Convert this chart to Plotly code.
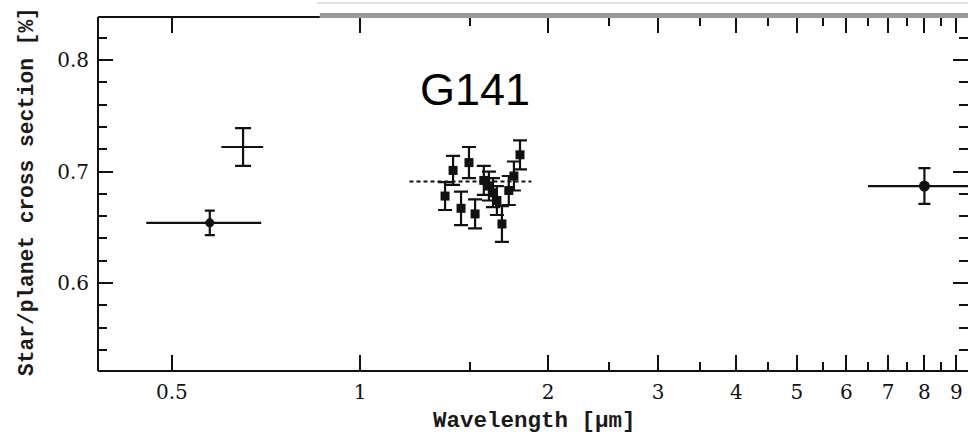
import plotly.graph_objects as go

# WFC3 G141 spectroscopic bins
g141_wavelength = [1.368, 1.409, 1.451, 1.494, 1.528, 1.578, 1.608, 1.632, 1.656, 1.687, 1.730, 1.763, 1.803]
g141_depth = [0.678, 0.701, 0.667, 0.708, 0.662, 0.692, 0.687, 0.681, 0.674, 0.653, 0.683, 0.696, 0.715]
g141_err = [0.0125, 0.013, 0.015, 0.014, 0.013, 0.013, 0.013, 0.013, 0.013, 0.016, 0.013, 0.013, 0.013]

# Broadband optical points
opt_a_wavelength = [0.575]
opt_a_halfwidth = [0.12]
opt_a_depth = [0.654]
opt_a_err = [0.011]

opt_b_wavelength = [0.65]
opt_b_halfwidth = [0.05]
opt_b_depth = [0.722]
opt_b_err = [0.017]

# IRAC 8 micron point
irac_wavelength = [8.0]
irac_halfwidth = [1.5]
irac_depth = [0.687]
irac_err = [0.016]

# White-light level across the G141 band
flat_wavelength = [1.20, 1.88]
flat_depth = [0.691, 0.691]

x_major = [0.5, 1, 2, 3, 4, 5, 6, 7, 8, 9]
x_major_text = ["0.5", "1", "2", "3", "4", "5", "6", "7", "8", "9"]
x_minor = [1.5, 2.5, 3.5, 4.5, 5.5, 6.5, 7.5, 8.5]
y_major = [0.6, 0.7, 0.8]
y_major_text = ["0.6", "0.7", "0.8"]

BLACK = "#111111"
tick_font = dict(family="DejaVu Serif", size=20, color="#111111")
title_font = dict(family="Liberation Mono", size=22.5, color="#1a1a1a", weight="bold")

fig = go.Figure()

fig.add_trace(go.Scatter(
    x=flat_wavelength, y=flat_depth, mode="lines",
    line=dict(color=BLACK, width=2, dash="4px,3px"), showlegend=False,
))

fig.add_trace(go.Scatter(
    x=g141_wavelength, y=g141_depth, mode="markers",
    marker=dict(symbol="square", size=9, color=BLACK),
    error_y=dict(type="data", array=g141_err, color=BLACK, thickness=2.2, width=7),
    showlegend=False,
))

fig.add_trace(go.Scatter(
    x=opt_a_wavelength, y=opt_a_depth, mode="markers",
    marker=dict(symbol="circle", size=9, color=BLACK),
    error_x=dict(type="data", array=opt_a_halfwidth, color=BLACK, thickness=2.2, width=0),
    error_y=dict(type="data", array=opt_a_err, color=BLACK, thickness=2.2, width=5),
    showlegend=False,
))

fig.add_trace(go.Scatter(
    x=opt_b_wavelength, y=opt_b_depth, mode="markers",
    marker=dict(symbol="circle", size=1, color=BLACK),
    error_x=dict(type="data", array=opt_b_halfwidth, color=BLACK, thickness=2.2, width=0),
    error_y=dict(type="data", array=opt_b_err, color=BLACK, thickness=2.2, width=8),
    showlegend=False,
))

fig.add_trace(go.Scatter(
    x=irac_wavelength, y=irac_depth, mode="markers",
    marker=dict(symbol="circle", size=11, color=BLACK),
    error_x=dict(type="data", array=irac_halfwidth, color=BLACK, thickness=2.2, width=0),
    error_y=dict(type="data", array=irac_err, color=BLACK, thickness=2.2, width=6),
    showlegend=False,
))

fig.update_xaxes(
    type="log", range=[-0.4192, 0.9728],
    tickmode="array", tickvals=x_major, ticktext=x_major_text,
    ticks="inside", ticklen=16, tickwidth=2, tickcolor=BLACK,
    minor=dict(tickmode="array", tickvals=x_minor, ticks="inside", ticklen=9,
               tickwidth=2, tickcolor=BLACK),
    showline=False, mirror="ticks", showgrid=False, zeroline=False,
    tickfont=tick_font, ticklabelstandoff=7,
)
fig.update_yaxes(
    range=[0.5211, 0.8386],
    tickmode="array", tickvals=y_major, ticktext=y_major_text,
    ticks="inside", ticklen=15, tickwidth=2, tickcolor=BLACK,
    minor=dict(tick0=0.5, dtick=0.02, ticks="inside", ticklen=9,
               tickwidth=2, tickcolor=BLACK),
    showline=False, mirror="ticks", showgrid=False, zeroline=False,
    tickfont=tick_font, ticklabelstandoff=8,
)

# Frame: left and bottom spines, top edge in two tones
fig.add_shape(type="line", xref="paper", yref="paper", x0=0, x1=0, y0=0, y1=1,
              line=dict(color=BLACK, width=2))
fig.add_shape(type="line", xref="paper", yref="paper", x0=0, x1=1, y0=0, y1=0,
              line=dict(color=BLACK, width=2))
fig.add_shape(type="line", xref="paper", yref="paper", x0=0, x1=0.255, y0=1, y1=1,
              line=dict(color=BLACK, width=2))
fig.add_shape(type="rect", xref="paper", yref="paper", x0=0.255, x1=1, y0=0.997, y1=1.011,
              line=dict(width=0), fillcolor="#9a9a9a")
fig.add_shape(type="line", xref="paper", yref="paper", x0=0.252, x1=1, y0=1.0395, y1=1.0395,
              line=dict(color="#c4c4c4", width=1))

fig.add_annotation(text="G141", xref="paper", yref="paper", x=0.433, y=0.794,
                   xanchor="center", yanchor="middle", showarrow=False,
                   font=dict(family="Liberation Sans", size=45, color="black"))
fig.add_annotation(text="Wavelength [μm]", xref="paper", yref="paper", x=0.502, y=-0.141,
                   xanchor="center", yanchor="middle", showarrow=False,
                   font=title_font)
fig.add_annotation(text="Star/planet cross section [%]", xref="paper", yref="paper",
                   x=-0.0816, y=0.506, textangle=-90,
                   xanchor="center", yanchor="middle", showarrow=False,
                   font=dict(family="Liberation Mono", size=21.2, color="#1a1a1a", weight="bold"))

fig.update_layout(
    width=968, height=438,
    margin=dict(l=98, r=0, t=17, b=67),
    plot_bgcolor="white", paper_bgcolor="white",
)

fig.write_html("out.html")
